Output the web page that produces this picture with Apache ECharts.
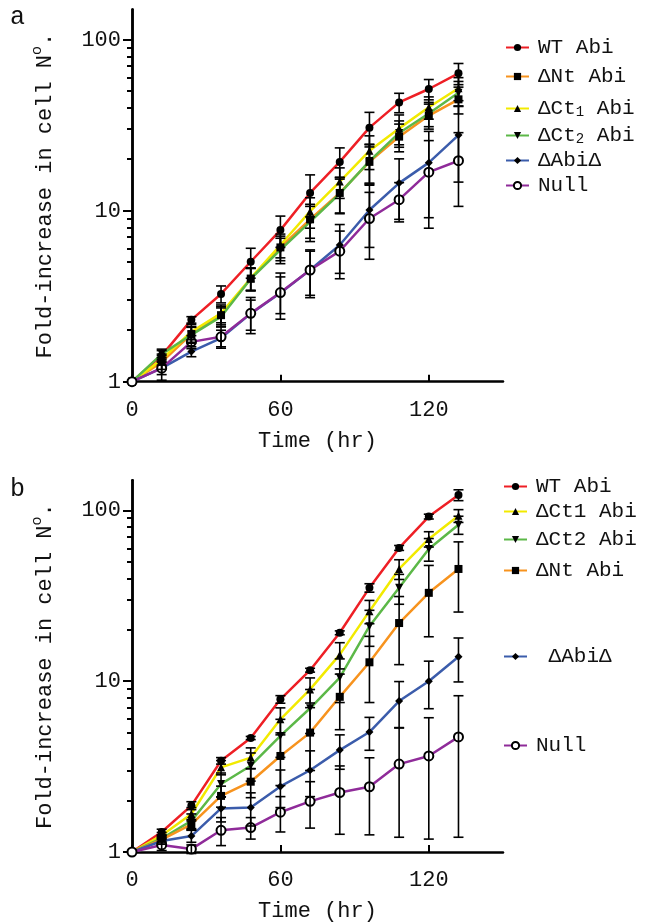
<!DOCTYPE html>
<html><head><meta charset="utf-8">
<script src="https://cdn.jsdelivr.net/npm/echarts@6/dist/echarts.min.js"></script>
<style>html,body{margin:0;padding:0;background:#fff}#c{width:652px;height:923px}</style>
</head><body><div id="c"></div>
<script>
// ---------- DATA ----------
const hours = [0, 12, 24, 36, 48, 60, 72, 84, 96, 108, 120, 132];
const xTicks = [0, 60, 120];
const yMajorTicks = [1, 10, 100];
const yMinorTicks = [2, 3, 4, 5, 6, 7, 8, 9, 20, 30, 40, 50, 60, 70, 80, 90];

// Panel a : means
const aWT   = [1, 1.42, 2.3, 3.26, 5.03, 7.7, 12.7, 19.3, 30.6, 43, 51.5, 63.6];
const aNt   = [1, 1.3, 1.9, 2.45, 4.0, 6.1, 8.9, 12.7, 19.3, 27.1, 36, 44.8];
const aCt1  = [1, 1.35, 1.96, 2.51, 4.03, 6.3, 9.9, 14.8, 22.4, 30.3, 40.3, 52];
const aCt2  = [1, 1.45, 1.88, 2.4, 4.0, 5.9, 8.6, 12.6, 19.5, 28.5, 37, 49];
const aAbi  = [1, 1.2, 1.5, 1.8, 2.5, 3.3, 4.5, 6.3, 10.1, 14.5, 19.1, 27.7];
const aNull = [1, 1.2, 1.71, 1.83, 2.51, 3.32, 4.5, 5.8, 9.0, 11.6, 16.8, 19.6];
// Panel a : SD
const aWTsd   = [0, 0.1, 0.1, 0.37, 1.0, 1.6, 3.5, 4.0, 7, 5.6, 7, 9];
const aNtsd   = [0, 0.12, 0.2, 0.3, 0.6, 1.0, 2.0, 3.0, 5, 5, 6, 8];
const aCt1sd  = [0, 0.1, 0.2, 0.3, 0.6, 1.0, 2.0, 3.0, 5, 6, 6, 8];
const aCt2sd  = [0, 0.1, 0.2, 0.3, 0.6, 1.0, 2.0, 3.0, 5, 5, 6, 8];
const aAbisd  = [0, 0.1, 0.1, 0.2, 0.5, 0.8, 1.3, 2.0, 4, 5.6, 10, 13];
const aNullsd = [0, 0.18, 0.15, 0.26, 0.6, 1.0, 1.4, 1.8, 3.8, 3, 8.9, 9];

// Panel b : means
const bWT   = [1, 1.31, 1.87, 3.42, 4.65, 7.83, 11.6, 19.2, 35.2, 60.3, 92, 123];
const bCt1  = [1, 1.25, 1.67, 3.13, 3.57, 5.98, 8.95, 14.3, 25.7, 45.4, 68, 93];
const bCt2  = [1, 1.2, 1.52, 2.5, 3.2, 4.78, 6.94, 10.5, 21, 35.2, 59.4, 82.4];
const bNt   = [1, 1.18, 1.45, 2.13, 2.58, 3.65, 5.0, 8.1, 12.9, 21.9, 32.9, 45.4];
const bAbi  = [1, 1.16, 1.24, 1.8, 1.82, 2.42, 3.01, 3.95, 5.04, 7.65, 10, 13.9];
const bNull = [1, 1.1, 1.04, 1.34, 1.39, 1.71, 1.98, 2.23, 2.41, 3.27, 3.65, 4.72];
// Panel b : SD
const bWTsd   = [0, 0.05, 0.1, 0.15, 0.1, 0.4, 0.3, 0.5, 2, 2, 3, 9];
const bCt1sd  = [0, 0.05, 0.15, 0.3, 0.5, 1.0, 1.5, 2.5, 4, 6, 7, 8];
const bCt2sd  = [0, 0.05, 0.15, 0.4, 0.6, 1.2, 2, 3, 5, 7, 9, 10];
const bNtsd   = [0, 0.05, 0.1, 0.3, 0.5, 1.2, 2.0, 2.9, 5.4, 9.4, 14.7, 20];
const bAbisd  = [0, 0.05, 0.1, 0.3, 0.4, 0.6, 0.9, 0.9, 1.1, 2.3, 3.1, 4];
const bNullsd = [0, 0.08, 0.06, 0.25, 0.2, 0.4, 0.6, 0.96, 1.15, 2.05, 2.46, 3.5];

// Labels
const legendA = ['WT Abi', 'ΔNt Abi', 'ΔCt{sub|1} Abi', 'ΔCt{sub|2} Abi', 'ΔAbiΔ', 'Null'];
const legendB = ['WT Abi', 'ΔCt1 Abi', 'ΔCt2 Abi', 'ΔNt Abi', ' ΔAbiΔ', 'Null'];
const yTitle = 'Fold-increase in cell N{sup|o}.';
const xTitle = 'Time (hr)';

// ---------- STYLE ----------
const FONT = 'Liberation Mono';
const C = {red:'#ee1f25', orange:'#f7931e', yellow:'#f2ea00', green:'#5cb848', blue:'#3b5cab', purple:'#8f2b99'};

const defs = [
  {id:'a0', g:0, v:aWT,  sd:aWTsd,  c:C.red,    s:'circle',    r:0,   lbl:legendA[0], ly:49},
  {id:'a1', g:0, v:aNt,  sd:aNtsd,  c:C.orange, s:'rect',      r:0,   lbl:legendA[1], ly:78},
  {id:'a2', g:0, v:aCt1, sd:aCt1sd, c:C.yellow, s:'triangle',  r:0,   lbl:legendA[2], ly:110},
  {id:'a3', g:0, v:aCt2, sd:aCt2sd, c:C.green,  s:'triangle',  r:180, lbl:legendA[3], ly:137},
  {id:'a4', g:0, v:aAbi, sd:aAbisd, c:C.blue,   s:'diamond',   r:0,   lbl:legendA[4], ly:162},
  {id:'a5', g:0, v:aNull,sd:aNullsd,c:C.purple, s:'emptyCircle',r:0,  lbl:legendA[5], ly:187},
  {id:'b0', g:1, v:bWT,  sd:bWTsd,  c:C.red,    s:'circle',    r:0,   lbl:legendB[0], ly:488},
  {id:'b1', g:1, v:bCt1, sd:bCt1sd, c:C.yellow, s:'triangle',  r:0,   lbl:legendB[1], ly:513},
  {id:'b2', g:1, v:bCt2, sd:bCt2sd, c:C.green,  s:'triangle',  r:180, lbl:legendB[2], ly:541},
  {id:'b3', g:1, v:bNt,  sd:bNtsd,  c:C.orange, s:'rect',      r:0,   lbl:legendB[3], ly:572},
  {id:'b4', g:1, v:bAbi, sd:bAbisd, c:C.blue,   s:'diamond',   r:0,   lbl:legendB[4], ly:658},
  {id:'b5', g:1, v:bNull,sd:bNullsd,c:C.purple, s:'emptyCircle',r:0,  lbl:legendB[5], ly:747}
];
const labelOf = {};
defs.forEach(d => labelOf[d.id] = d.lbl);

const chart = echarts.init(document.getElementById('c'), null, {renderer:'canvas'});

function errRender(params, api) {
  const x = api.value(0), lo = api.value(1), hi = api.value(2);
  const p1 = api.coord([x, lo]), p2 = api.coord([x, hi]);
  const hw = 5, st = {stroke:'#000', lineWidth:1.6};
  return {type:'group', children:[
    {type:'line', shape:{x1:p1[0], y1:p1[1], x2:p2[0], y2:p2[1]}, style:st},
    {type:'line', shape:{x1:p1[0]-hw, y1:p1[1], x2:p1[0]+hw, y2:p1[1]}, style:st},
    {type:'line', shape:{x1:p2[0]-hw, y1:p2[1], x2:p2[0]+hw, y2:p2[1]}, style:st}
  ]};
}

const series = [];
defs.forEach(d => {
  series.push({
    type:'line', id:d.id, name:d.id, xAxisIndex:d.g, yAxisIndex:d.g,
    data: hours.map((h,i) => [h, d.v[i]]),
    symbol:d.s, symbolRotate:d.r, symbolSize: d.s==='emptyCircle' ? 9 : 8,
    lineStyle:{color:d.c, width:2.5}, itemStyle:{color:'#000', borderWidth: d.s==='emptyCircle'?1.6:0},
    z:3, animation:false, emphasis:{disabled:true}
  });
  series.push({
    type:'custom', name:'err_'+d.id, xAxisIndex:d.g, yAxisIndex:d.g,
    data: hours.map((h,i) => [h, d.v[i]-d.sd[i], d.v[i]+d.sd[i]]).filter((r,i) => d.sd[i] > 0),
    encode:{x:0, y:[1,2]}, renderItem:errRender, z:4, animation:false, silent:true
  });
});

const legends = defs.map(d => ({
  data:[{name:d.id}], left: d.g===0 ? 505 : 503, top: d.ly - 12, orient:'vertical',
  itemWidth:23, itemHeight:9, selectedMode:false, padding:0,
  formatter: n => labelOf[n],
  textStyle:{fontFamily:FONT, fontSize:21, color:'#111', padding:[0,0,0,4],
    rich:{sub:{fontFamily:FONT, fontSize:14, lineHeight:8, verticalAlign:'bottom', color:'#111'}}}
}));

const grids = [
  {left:132, right:149, top:9.6, height:372.1},
  {left:132, right:149, top:480.3, height:372.7}
];
const xAxes = [0,1].map(g => ({
  type:'value', gridIndex:g, min:0, max:150, interval:60,
  axisLine:{onZero:false, lineStyle:{color:'#000', width:2.5}},
  axisTick:{show:true, inside:true, length:7, lineStyle:{color:'#000', width:2}, customValues:xTicks},
  axisLabel:{fontFamily:FONT, fontSize:22, color:'#111', margin:17, customValues:xTicks},
  splitLine:{show:false},
  name:xTitle, nameLocation:'middle', nameGap:48,
  nameTextStyle:{fontFamily:FONT, fontSize:22, color:'#111'}
}));
const yMinor = [0,1].map(g => ({
  type:'log', logBase:10, gridIndex:g, min:1, max:150, position:'left', offset:0,
  axisLine:{show:true, lineStyle:{color:'#000', width:2.5}},
  axisTick:{show:true, inside:false, length:5, lineStyle:{color:'#000', width:2}, customValues:yMinorTicks},
  axisLabel:{show:false}, splitLine:{show:false}
}));
const yMain = [0,1].map(g => ({
  type:'log', logBase:10, gridIndex:g, min:1, max:150, position:'left', offset:0,
  axisLine:{lineStyle:{color:'#000', width:2.5}},
  axisTick:{show:true, inside:false, length:9, lineStyle:{color:'#000', width:2}, customValues:yMajorTicks},
  axisLabel:{fontFamily:FONT, fontSize:22, color:'#111', margin:11, customValues:yMajorTicks},
  splitLine:{show:false}, minorTick:{show:false},
  name:yTitle, nameLocation:'middle', nameGap:72, nameRotate:90,
  nameTextStyle:{fontFamily:FONT, fontSize:22, color:'#111',
    rich:{sup:{fontFamily:FONT, fontSize:15, lineHeight:30, verticalAlign:'top', color:'#111'}}}
}));

chart.setOption({
  animation:false,
  backgroundColor:'#fff',
  grid:grids, xAxis:xAxes, yAxis: yMain.concat(yMinor),
  legend:legends,
  series:series,
  graphic:[
    {type:'text', x:10, y:17, style:{text:'a', fontFamily:FONT, fontSize:25, fill:'#111', verticalAlign:'middle'}},
    {type:'text', x:10, y:489, style:{text:'b', fontFamily:FONT, fontSize:25, fill:'#111', verticalAlign:'middle'}}
  ]
});
</script></body></html>
